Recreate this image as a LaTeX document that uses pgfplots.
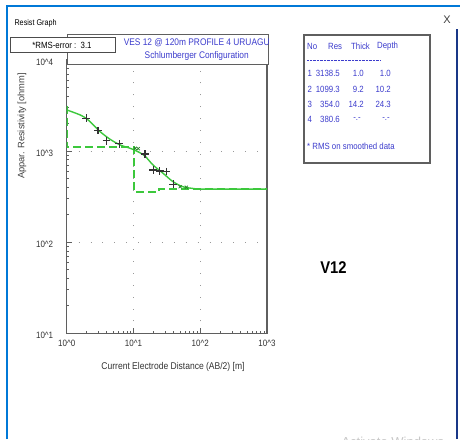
\documentclass[border=0pt]{standalone}
\usepackage{fontspec}
\setmainfont{Liberation Sans}[FakeStretch=0.87]
\newfontfamily\plainsans{Liberation Sans}
\usepackage{pgfplots}
\pgfplotsset{compat=1.18}
\definecolor{vgreen}{RGB}{60,200,60}
\definecolor{vblue}{RGB}{60,60,205}
\definecolor{vgray}{RGB}{95,95,95}
\definecolor{winblue}{RGB}{0,120,215}
\definecolor{windark}{RGB}{25,55,135}
\begin{document}
\begin{tikzpicture}[x=1pt,y=1pt]
\useasboundingbox (0,0) rectangle (460,439);
\fill[white] (0,0) rectangle (460,439);
% window frame
\draw[winblue, line width=1.6pt] (7,0) -- (7,433) -- (460,433);
\draw[windark, line width=1.6pt] (457,0) -- (457,410);
\node[anchor=west, font=\fontsize{8.3}{9}\selectfont] at (11,416) {Resist Graph};
\node[font=\plainsans\fontsize{11}{12}\selectfont, text=black!75] at (447,419) {X};
\node[anchor=north west, font=\plainsans\fontsize{13}{14}\selectfont, text=black!22] at (338,5) {Activate Windows};

\begin{axis}[
  at={(66.7pt,105.7pt)}, anchor=south west, scale only axis,
  width=200.3pt, height=273.5pt,
  xmode=log, ymode=log,
  xmin=1, xmax=1000, ymin=10, ymax=10000,
  xtick={1,10,100,1000},
  xticklabels={10\textasciicircum 0,10\textasciicircum 1,10\textasciicircum 2,10\textasciicircum 3},
  ytick={10,100,1000,10000},
  yticklabels={10\textasciicircum 1,10\textasciicircum 2,10\textasciicircum 3,10\textasciicircum 4},
  minor xtick={2,3,4,5,6,7,8,9,20,30,40,50,60,70,80,90,200,300,400,500,600,700,800,900},
  minor ytick={20,30,40,50,60,70,80,90,200,300,400,500,600,700,800,900,2000,3000,4000,5000,6000,7000,8000,9000},
  xtick pos=left, ytick pos=left,
  tick align=inside,
  major tick length=5pt, minor tick length=2.5pt,
  grid=major,
  major grid style={black!40, line width=0.9pt, dash pattern=on 0.9pt off 11pt},
  axis line style={vgray, line width=1.2pt},
  tick style={vgray, line width=0.8pt},
  xticklabel style={font=\fontsize{9.2}{10}\selectfont, text=black!80, yshift=-3pt},
  yticklabel style={font=\fontsize{9.2}{10}\selectfont, text=black!80, xshift=-10pt, yshift=-2.5pt},
]
% model (layered)
\addplot[vgreen, line width=1.6pt, dash pattern=on 8pt off 4pt] coordinates {
(1,3138.5) (1,1099.3) (10.2,1099.3) (10.2,354.0) (24.3,354.0) (24.3,380.6) (1000,380.6)};
% calculated curve
\addplot[vgreen, line width=1.4pt, smooth] coordinates {
(1,2820) (1.58,2490) (2.0,2250) (2.5,1935) (3.16,1630) (4.45,1345) (6.3,1165)
(8.9,1070) (11.1,1000) (14.8,882) (19.6,702) (27.7,570) (39,461) (55,405)
(77.6,388) (98,382) (200,381) (1000,381)};
% smoothed data
\addplot[only marks, mark=x, mark size=2.2pt, black!35!vgreen, line width=0.8pt] coordinates {
(10.6,1070) (11.8,1060) (50,405) (62,400)};
% field data
\addplot[only marks, mark=+, mark size=3.8pt, black!80, line width=1.1pt] coordinates {
(1.96,2285) (2.94,1670) (3.92,1288) (6.13,1194) (14.9,927) (19.8,619) (24.9,603) (31.4,593) (39.4,431)};
\end{axis}

% title box
\draw[vgray, line width=1pt, fill=white] (67,374) rectangle (268,404);
\node[text=vblue, font=\fontsize{9.6}{11}\selectfont] at (196.7,396.3) {VES 12 @ 120m PROFILE 4 URUAGU};
\node[text=vblue, font=\fontsize{9.6}{11}\selectfont] at (196.7,383) {Schlumberger Configuration};
% RMS box
\draw[black!70, line width=1pt, fill=white] (10,386) rectangle (115,401);
\node[font=\fontsize{9}{10}\selectfont] at (62,394) {*RMS-error :\ \ 3.1};
% axis labels
\node[rotate=90, font=\plainsans\fontsize{9.3}{10}\selectfont, text=black!75] at (22,313) {Appar. Resistivity [ohmm]};
\node[font=\fontsize{9.8}{11}\selectfont, text=black!80] at (173,72) {Current Electrode Distance (AB/2) [m]};

% result panel
\draw[vgray, line width=1.4pt, fill=white] (304,276) rectangle (430,404);
\begin{scope}[every node/.style={text=vblue, font=\fontsize{9}{10}\selectfont, inner sep=0pt}]
\node[anchor=west] at (307,393) {No};
\node[anchor=west] at (328,393) {Res};
\node[anchor=west] at (351,393) {Thick};
\node[anchor=west] at (377,393) {Depth};
\draw[vblue, line width=0.5pt, dash pattern=on 0.8pt off 0.6pt] (307,379) -- (380,379);
\node[anchor=west] at (307.5,366) {1};
\node[anchor=east] at (340,366) {3138.5};
\node[anchor=east] at (364,366) {1.0};
\node[anchor=east] at (391,366) {1.0};
\node[anchor=west] at (307.5,350) {2};
\node[anchor=east] at (340,350) {1099.3};
\node[anchor=east] at (364,350) {9.2};
\node[anchor=east] at (391,350) {10.2};
\node[anchor=west] at (307.5,335) {3};
\node[anchor=east] at (340,335) {354.0};
\node[anchor=east] at (364,335) {14.2};
\node[anchor=east] at (391,335) {24.3};
\node[anchor=west] at (307.5,320) {4};
\node[anchor=east] at (340,320) {380.6};
\node at (357,320) {-.-};
\node at (386,320) {-.-};
\node[anchor=west] at (307,293) {* RMS on smoothed data};
\end{scope}

\node[font=\bfseries\fontsize{17}{18}\selectfont] at (333.5,171) {V12};
\end{tikzpicture}
\end{document}
